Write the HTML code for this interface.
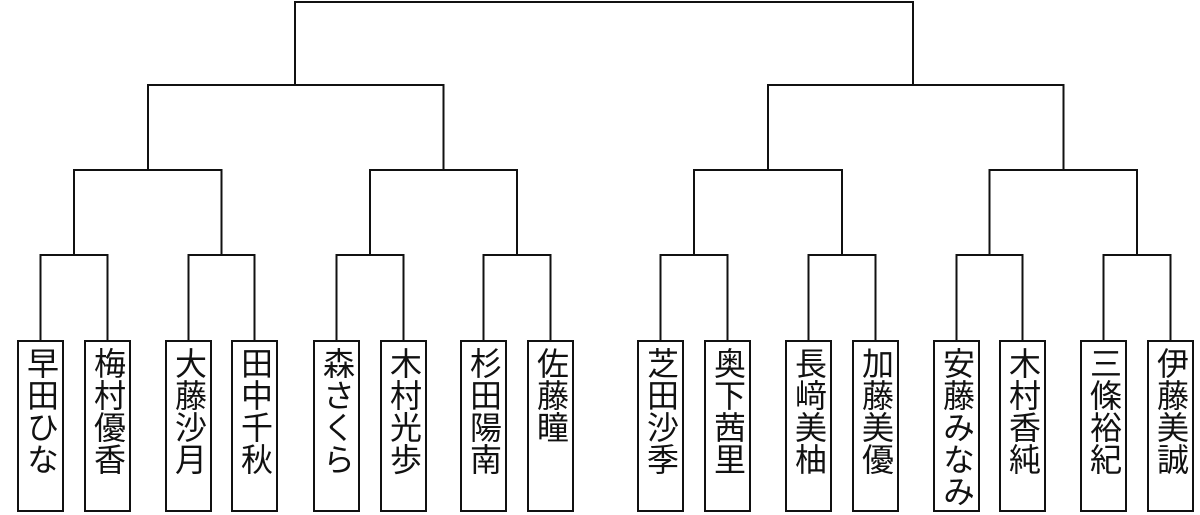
<!DOCTYPE html>
<html><head><meta charset="utf-8"><style>
html,body{margin:0;padding:0;background:#fff;width:1200px;height:515px;overflow:hidden}
.b{position:absolute;top:340px;width:43px;height:168px;border:2px solid #111;background:#fff;box-sizing:content-box}
.b span{position:absolute;left:0;right:0;top:5px;writing-mode:vertical-rl;font-family:"Liberation Sans","Noto Sans CJK JP",sans-serif;font-size:32px;line-height:43px;letter-spacing:0px;color:#111}
</style></head><body>
<svg width="1200" height="515" style="position:absolute;left:0;top:0" fill="none" stroke="#111" stroke-width="2">
<path d="M295,85V2H913V85"/>
<path d="M148,170V85H443.5V170"/>
<path d="M768,170V85H1063.5V170"/>
<path d="M74,255V170H221.5V255M370,255V170H517V255M694,255V170H842V255M989.5,255V170H1137V255"/>
<path d="M40.5,340V255H107.5V340M188.5,340V255H254.5V340M336.5,340V255H403.5V340M483.5,340V255H550.5V340"/>
<path d="M660.5,340V255H727.5V340M808.5,340V255H875.5V340M956.5,340V255H1022.5V340M1103.5,340V255H1170.5V340"/>
</svg>
<div class="b" style="left:17px"><span>早田ひな</span></div>
<div class="b" style="left:84px"><span>梅村優香</span></div>
<div class="b" style="left:165px"><span>大藤沙月</span></div>
<div class="b" style="left:231px"><span>田中千秋</span></div>
<div class="b" style="left:313px"><span>森さくら</span></div>
<div class="b" style="left:380px"><span>木村光歩</span></div>
<div class="b" style="left:460px"><span>杉田陽南</span></div>
<div class="b" style="left:527px"><span>佐藤瞳</span></div>
<div class="b" style="left:637px"><span>芝田沙季</span></div>
<div class="b" style="left:704px"><span>奥下茜里</span></div>
<div class="b" style="left:785px"><span>長﨑美柚</span></div>
<div class="b" style="left:852px"><span>加藤美優</span></div>
<div class="b" style="left:933px"><span>安藤みなみ</span></div>
<div class="b" style="left:999px"><span>木村香純</span></div>
<div class="b" style="left:1080px"><span>三條裕紀</span></div>
<div class="b" style="left:1147px"><span>伊藤美誠</span></div>
</body></html>
